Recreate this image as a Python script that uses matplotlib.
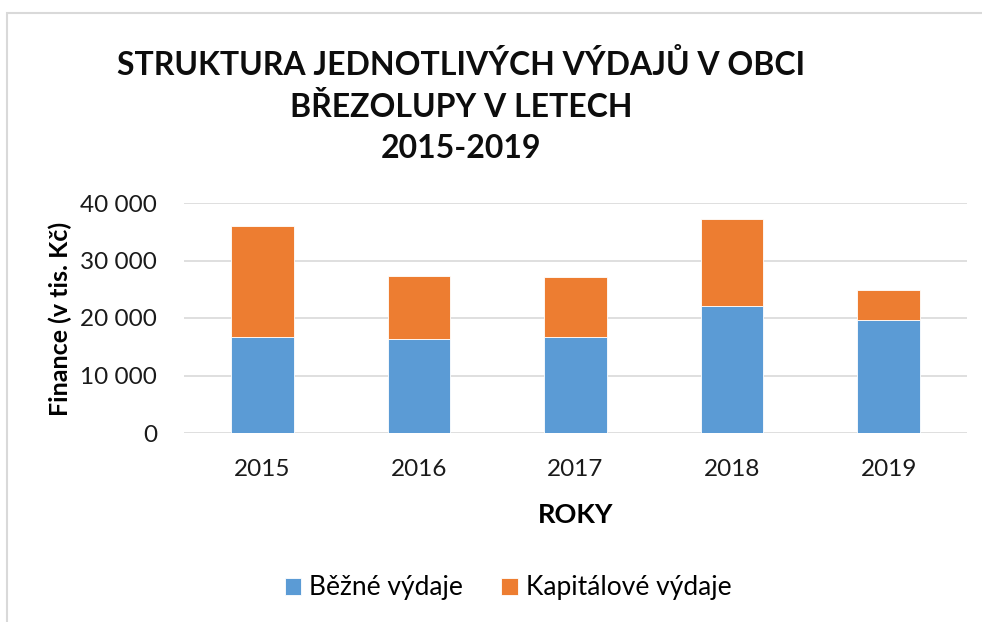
import matplotlib.pyplot as plt
from matplotlib.patches import Rectangle
from matplotlib.ticker import FuncFormatter

years = ['2015', '2016', '2017', '2018', '2019']
bezne = [16750, 16350, 16750, 22100, 19650]
kapitalove = [19250, 10950, 10350, 15100, 5150]

plt.rcParams['font.family'] = ['Lato', 'DejaVu Sans']

fig = plt.figure(figsize=(9.82, 6.22), dpi=100)
W, H = 982, 622
ax = fig.add_axes([184 / W, 1 - 433 / H, (967 - 184) / W, (433 - 203) / H])

x = range(len(years))
ax.bar(x, bezne, width=0.4, color='#5B9BD5', edgecolor='white', linewidth=0.6,
       label='Běžné výdaje', zorder=3)
ax.bar(x, kapitalove, width=0.4, bottom=bezne, color='#ED7D31', edgecolor='white',
       linewidth=0.6, label='Kapitálové výdaje', zorder=3)

ax.set_xlim(-0.5, len(years) - 0.5)
ax.set_ylim(0, 40000)
ax.set_yticks([0, 10000, 20000, 30000, 40000])
ax.yaxis.set_major_formatter(FuncFormatter(lambda v, p: f'{int(v):,}'.replace(',', ' ')))
ax.set_xticks(list(x))
ax.set_xticklabels(years)
ax.grid(axis='y', color='#D9D9D9', linewidth=1.2, zorder=0)
for s in ax.spines.values():
    s.set_visible(False)
ax.tick_params(length=0, labelsize=17.5, colors='#1a1a1a')
ax.tick_params(axis='y', pad=19.5)
ax.tick_params(axis='x', pad=19)

ax.set_ylabel('Finance (v tis. Kč)', fontsize=18, fontweight='bold')
ax.yaxis.set_label_coords((72 - 184) / 783, (433 - 319) / 230)
ax.set_xlabel('ROKY', fontsize=19.5, fontweight='bold', va='center')
ax.xaxis.set_label_coords(0.5, -(515 - 433) / 230)

fig.text(461 / W, 1 - 106 / H,
         'STRUKTURA JEDNOTLIVÝCH VÝDAJŮ V OBCI\nBŘEZOLUPY V LETECH\n2015-2019',
         ha='center', va='center', fontsize=23, fontweight='bold',
         linespacing=1.5, color='#0d0d0d')

fig.legend(loc='center', bbox_to_anchor=(508 / W, 1 - 588 / H), ncol=2,
           frameon=False, fontsize=19, handlelength=0.63, handleheight=0.63,
           handletextpad=0.3, columnspacing=1.45)

fig.patches.append(Rectangle((7 / W, -0.05), 1.1, 1 - 12.5 / H + 0.05,
                             transform=fig.transFigure, fill=False,
                             edgecolor='#D9D9D9', linewidth=1.5))

fig.savefig('out.png', dpi=100)
